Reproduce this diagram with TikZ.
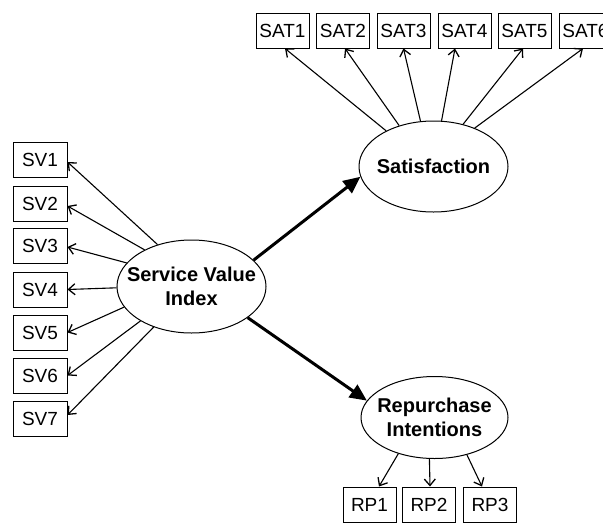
\documentclass[tikz,border=0pt]{standalone}
\usepackage{fontspec}
\setmainfont{Liberation Sans}
\usetikzlibrary{shapes.geometric,arrows.meta}
\begin{document}
\begin{tikzpicture}[x=1pt,y=-1pt,
  indicator/.style={draw,line width=1pt,minimum width=53pt,minimum height=35pt,
    inner sep=0pt,font=\fontsize{19}{22}\selectfont},
  construct/.style={draw,ellipse,line width=1pt,inner sep=0pt},
  constructtext/.style={align=center,font=\fontsize{20}{24}\selectfont\bfseries},
  loading/.style={line width=1.1pt,-{Straight Barb[length=6.5pt,width=11pt,line width=1.3pt]}},
  path/.style={line width=3pt,-{Triangle[length=17pt,width=15pt]}}]
\useasboundingbox (0,0) rectangle (603,523);

% latent constructs
\node[construct,minimum width=149pt,minimum height=93pt] (svi) at (191.5,286.5) {};
\node[constructtext] (sviText) at (svi.center) {Service Value\\Index};
\node[construct,minimum width=149pt,minimum height=91pt] (sat) at (433.5,166.5) {};
\node[constructtext] (satText) at (sat.center) {Satisfaction};
\node[construct,minimum width=147pt,minimum height=82pt] (rp) at (434.5,417.5) {};
\node[constructtext] (rpText) at (rp.center) {Repurchase\\Intentions};

% service value indicators
\node[indicator,minimum width=54pt] (sv1) at (40,160) {SV1};
\node[indicator,minimum width=54pt] (sv2) at (40,203.5) {SV2};
\node[indicator,minimum width=54pt] (sv3) at (40,246) {SV3};
\node[indicator,minimum width=54pt] (sv4) at (40,289.5) {SV4};
\node[indicator,minimum width=54pt] (sv5) at (40,332.5) {SV5};
\node[indicator,minimum width=54pt] (sv6) at (40,375.5) {SV6};
\node[indicator,minimum width=54pt] (sv7) at (40,419) {SV7};

% satisfaction indicators
\node[indicator] (sat1) at (282.5,30.5) {SAT1};
\node[indicator] (sat2) at (343,30.5) {SAT2};
\node[indicator] (sat3) at (403.5,30.5) {SAT3};
\node[indicator] (sat4) at (464.5,30.5) {SAT4};
\node[indicator] (sat5) at (524.5,30.5) {SAT5};
\node[indicator] (sat6) at (585.5,30.5) {SAT6};

% repurchase indicators
\node[indicator] (rp1) at (369.5,504.5) {RP1};
\node[indicator] (rp2) at (429,504.5) {RP2};
\node[indicator] (rp3) at (490,504.5) {RP3};

% loadings
\draw[loading] (svi.129.6) -- ([yshift=-2pt]sv1.east);
\draw[loading] (svi.142.6) -- ([yshift=-2.5pt]sv2.east);
\draw[loading] (svi.160) -- ([yshift=-1pt]sv3.east);
\draw[loading] (svi.181.9) -- (sv4.east);
\draw[loading] (svi.197.9) -- (sv5.east);
\draw[loading] (svi.214.6) -- (sv6.east);
\draw[loading] (svi.227.1) -- ([yshift=4pt]sv7.east);

\draw[loading] (sat.143.8) -- ([xshift=2.5pt]sat1.south);
\draw[loading] (sat.130.5) -- ([xshift=2pt]sat2.south);
\draw[loading] (sat.106.5) -- (sat3.south);
\draw[loading] (sat.80.6) -- ([xshift=-9.5pt]sat4.south);
\draw[loading] (sat.55.2) -- ([xshift=-1.5pt]sat5.south);
\draw[loading] (sat.43.6) -- ([xshift=-2.5pt]sat6.south);

\draw[loading] (rp.225) -- ([xshift=9.5pt]rp1.north);
\draw[loading] (rp.263.7) -- ([xshift=1pt]rp2.north);
\draw[loading] (rp.311.8) -- ([xshift=-8pt]rp3.north);

% structural paths
\draw[path] (svi.23.6) -- (sat.188.9);
\draw[path] (svi.331.6) -- (rp.166.4);
\end{tikzpicture}
\end{document}
